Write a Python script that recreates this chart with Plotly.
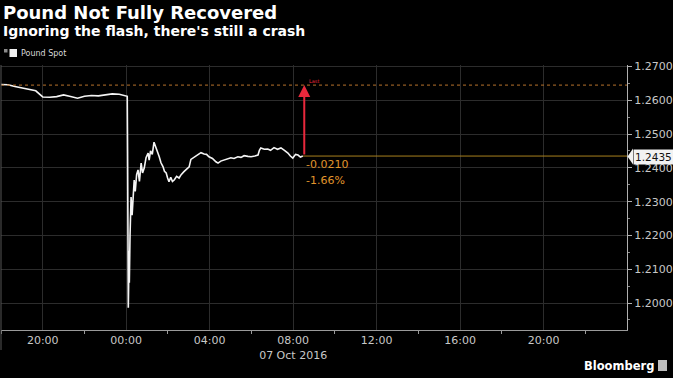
import plotly.graph_objects as go

# ---------------- data ----------------
times = [
    "2016-10-06 18:00", "2016-10-06 18:20", "2016-10-06 18:40", "2016-10-06 19:00",
    "2016-10-06 19:20", "2016-10-06 19:40", "2016-10-06 20:00", "2016-10-06 20:20",
    "2016-10-06 20:40", "2016-10-06 21:00", "2016-10-06 21:20", "2016-10-06 21:40",
    "2016-10-06 22:00", "2016-10-06 22:20", "2016-10-06 22:40", "2016-10-06 23:00",
    "2016-10-06 23:20", "2016-10-06 23:40", "2016-10-06 23:55",
    "2016-10-07 00:03", "2016-10-07 00:04", "2016-10-07 00:05", "2016-10-07 00:06",
    "2016-10-07 00:07", "2016-10-07 00:08", "2016-10-07 00:09", "2016-10-07 00:11",
    "2016-10-07 00:14", "2016-10-07 00:17", "2016-10-07 00:20", "2016-10-07 00:23",
    "2016-10-07 00:26", "2016-10-07 00:30", "2016-10-07 00:34", "2016-10-07 00:38",
    "2016-10-07 00:43", "2016-10-07 00:47", "2016-10-07 00:52", "2016-10-07 00:57",
    "2016-10-07 01:03", "2016-10-07 01:06", "2016-10-07 01:10", "2016-10-07 01:15",
    "2016-10-07 01:20", "2016-10-07 01:25", "2016-10-07 01:30", "2016-10-07 01:35",
    "2016-10-07 01:40", "2016-10-07 01:46", "2016-10-07 01:50", "2016-10-07 01:55",
    "2016-10-07 01:59", "2016-10-07 02:03", "2016-10-07 02:08", "2016-10-07 02:13",
    "2016-10-07 02:18", "2016-10-07 02:25", "2016-10-07 02:32", "2016-10-07 02:38",
    "2016-10-07 02:46", "2016-10-07 02:53", "2016-10-07 03:01", "2016-10-07 03:06",
    "2016-10-07 03:12", "2016-10-07 03:20", "2016-10-07 03:27", "2016-10-07 03:35",
    "2016-10-07 03:44", "2016-10-07 03:51", "2016-10-07 03:58", "2016-10-07 04:08",
    "2016-10-07 04:18", "2016-10-07 04:24", "2016-10-07 04:32", "2016-10-07 04:41",
    "2016-10-07 04:50", "2016-10-07 05:01", "2016-10-07 05:10", "2016-10-07 05:21",
    "2016-10-07 05:30", "2016-10-07 05:39", "2016-10-07 05:50", "2016-10-07 05:59",
    "2016-10-07 06:10", "2016-10-07 06:19", "2016-10-07 06:23", "2016-10-07 06:27",
    "2016-10-07 06:37", "2016-10-07 06:47", "2016-10-07 06:55", "2016-10-07 07:05",
    "2016-10-07 07:15", "2016-10-07 07:25", "2016-10-07 07:35", "2016-10-07 07:45",
    "2016-10-07 07:52", "2016-10-07 07:59", "2016-10-07 08:07", "2016-10-07 08:14",
    "2016-10-07 08:21", "2016-10-07 08:28",
]
pound_spot = [
    1.2647, 1.2646, 1.2641, 1.2637,
    1.2634, 1.2628, 1.2610, 1.2609,
    1.2611, 1.2616, 1.2611, 1.2606,
    1.2612, 1.2614, 1.2613, 1.2617,
    1.2619, 1.2618, 1.2613,
    1.2612, 1.2450, 1.2150, 1.1986,
    1.2050, 1.2155, 1.2060, 1.2200,
    1.2314, 1.2260, 1.2340, 1.2364,
    1.2330, 1.2380, 1.2394, 1.2360,
    1.2414, 1.2385, 1.2400, 1.2430,
    1.2444, 1.2423, 1.2450, 1.2440,
    1.2476, 1.2462, 1.2450, 1.2433,
    1.2415, 1.2403, 1.2390, 1.2385,
    1.2370, 1.2359, 1.2372, 1.2360,
    1.2364, 1.2375, 1.2370, 1.2380,
    1.2389, 1.2395, 1.2403, 1.2425,
    1.2429, 1.2433, 1.2438, 1.2445,
    1.2441, 1.2440, 1.2433, 1.2428,
    1.2418, 1.2414, 1.2420, 1.2423,
    1.2426, 1.2430, 1.2428, 1.2433,
    1.2431, 1.2436, 1.2434, 1.2433,
    1.2435, 1.2438, 1.2452, 1.2459,
    1.2455, 1.2456, 1.2452, 1.2460,
    1.2455, 1.2459, 1.2452, 1.2444,
    1.2435, 1.2429, 1.2440, 1.2438,
    1.2432, 1.2435,
]
reference_level = 1.2645
series_name = "Pound Spot"

x_tick_vals = ["2016-10-06 20:00", "2016-10-07 00:00", "2016-10-07 04:00",
               "2016-10-07 08:00", "2016-10-07 12:00", "2016-10-07 16:00",
               "2016-10-07 20:00"]
x_tick_text = ["20:00", "00:00", "04:00", "08:00<br>07 Oct 2016", "12:00", "16:00", "20:00"]
x_range = ["2016-10-06 18:00", "2016-10-08 00:00"]
y_range = [1.19201, 1.27045]

title = "Pound Not Fully Recovered"
subtitle = "Ignoring the flash, there's still a crash"

# ---------------- layout helpers ----------------
W, H = 673, 378
ML, MR, MT, MB = 1, 46, 65, 48
PW, PH = W - ML - MR, H - MT - MB


def px(xp):
    return (xp - ML) / PW


def py(yp):
    return (H - MB - yp) / PH


last_val = pound_spot[-1]
last_t = times[-1]
change = last_val - reference_level
pct = change / reference_level * 100

FONT = "DejaVu Sans"
BOLD = "DejaVu Sans"
GRID = "#2c2c2c"
ORANGE_TXT = "#e0952c"

fig = go.Figure()
fig.add_trace(go.Scatter(
    x=times, y=pound_spot, mode="lines", name=series_name,
    line=dict(color="#f4f4f4", width=1.6), showlegend=False,
))

shapes = [
    # reference level (dotted orange, full width)
    dict(type="line", xref="paper", yref="y", x0=0, x1=1,
         y0=reference_level, y1=reference_level,
         line=dict(color="#b8722c", width=1, dash="dot")),
    # last level (orange from last point to right)
    dict(type="line", xref="x", yref="y", x0=last_t, x1=x_range[1],
         y0=last_val, y1=last_val,
         line=dict(color="#a8801e", width=1)),
    # left frame line
    dict(type="line", xref="paper", yref="paper", x0=0, x1=0,
         y0=py(350), y1=1, line=dict(color="#555555", width=1)),
    # legend squares
    dict(type="rect", xref="paper", yref="paper", x0=px(4), x1=px(7.5),
         y0=py(52.5), y1=py(49), fillcolor="#8a8a8a", line=dict(width=0)),
    dict(type="rect", xref="paper", yref="paper", x0=px(9.5), x1=px(17),
         y0=py(57), y1=py(49), fillcolor="#f0f0f0", line=dict(width=0)),
    # pointer of last-value tag
    dict(type="path", xref="paper", yref="paper",
         path=f"M {px(627.5)} {py(156.5)} L {px(633)} {py(148.5)} L {px(633)} {py(164.5)} Z",
         fillcolor="#f2f2f2", line=dict(width=0)),
    # Bloomberg icon
    dict(type="rect", xref="paper", yref="paper", x0=px(658), x1=px(667),
         y0=py(371), y1=py(360), fillcolor="#bdbdbd", line=dict(width=0)),
]

annotations = [
    dict(text=f"<b>{title}</b>", xref="paper", yref="paper", x=px(1), y=py(12),
         xanchor="left", yanchor="middle", showarrow=False,
         font=dict(family=BOLD, size=18, color="#ffffff")),
    dict(text=f"<b>{subtitle}</b>", xref="paper", yref="paper", x=px(1), y=py(31),
         xanchor="left", yanchor="middle", showarrow=False,
         font=dict(family=BOLD, size=14, color="#ffffff")),
    dict(text=series_name, xref="paper", yref="paper", x=px(18.5), y=py(53),
         xanchor="left", yanchor="middle", showarrow=False,
         font=dict(family=FONT, size=8, color="#d8d8d8")),
    # red arrow from last value up to reference level
    dict(x="2016-10-07 08:32", y=reference_level, ax="2016-10-07 08:32", ay=last_val,
         xref="x", yref="y", axref="x", ayref="y", text="", showarrow=True,
         arrowhead=2, arrowsize=1.2, arrowwidth=2, arrowcolor="#e8283c"),
    dict(text="Last", x="2016-10-07 08:40", y=reference_level, xref="x", yref="y",
         xanchor="left", yanchor="bottom", showarrow=False, yshift=-1,
         font=dict(family=FONT, size=5, color="#e8283c")),
    dict(text=f"{change:.4f}", x="2016-10-07 08:30", y=last_val, xref="x", yref="y",
         xanchor="left", yanchor="middle", yshift=-8, showarrow=False,
         font=dict(family=FONT, size=11, color=ORANGE_TXT)),
    dict(text=f"{pct:.2f}%", x="2016-10-07 08:30", y=last_val, xref="x", yref="y",
         xanchor="left", yanchor="middle", yshift=-24, showarrow=False,
         font=dict(family=FONT, size=11, color=ORANGE_TXT)),
    # last-value tag on the axis
    dict(text=f"{last_val:.4f}", xref="paper", yref="paper", x=px(632.5), y=py(156.5),
         xanchor="left", yanchor="middle", showarrow=False,
         bgcolor="#f2f2f2", borderpad=1,
         font=dict(family=FONT, size=10.5, color="#111111")),
    dict(text="<b>Bloomberg</b>", xref="paper", yref="paper", x=px(656), y=py(366),
         xanchor="right", yanchor="middle", showarrow=False,
         font=dict(family=BOLD, size=11.5, color="#ffffff")),
]

fig.update_layout(
    width=W, height=H,
    margin=dict(l=ML, r=MR, t=MT, b=MB, pad=0),
    paper_bgcolor="#000000", plot_bgcolor="#000000",
    showlegend=False,
    shapes=shapes, annotations=annotations,
    xaxis=dict(
        type="date", range=x_range,
        tickvals=x_tick_vals, ticktext=x_tick_text,
        showgrid=True, gridcolor=GRID, gridwidth=1,
        showline=True, linecolor="#9a9a9a", linewidth=1,
        ticks="", zeroline=False,
        minor=dict(ticks="outside", ticklen=3, tickcolor="#9a9a9a",
                   dtick=4 * 3600000, tick0="2016-10-06 22:00", showgrid=False),
        tickfont=dict(family=FONT, size=11, color="#c8c8c8"),
    ),
    yaxis=dict(
        side="right", range=y_range,
        tick0=1.2, dtick=0.01, tickformat=".4f",
        showgrid=True, gridcolor=GRID, gridwidth=1,
        showline=True, linecolor="#b0b0b0", linewidth=1,
        ticks="outside", ticklen=4, tickcolor="#b0b0b0",
        minor=dict(ticks="outside", ticklen=2, tickcolor="#888888", dtick=0.005, showgrid=False),
        zeroline=False,
        tickfont=dict(family=FONT, size=11, color="#c8c8c8"),
    ),
)

fig.write_html("out.html")
